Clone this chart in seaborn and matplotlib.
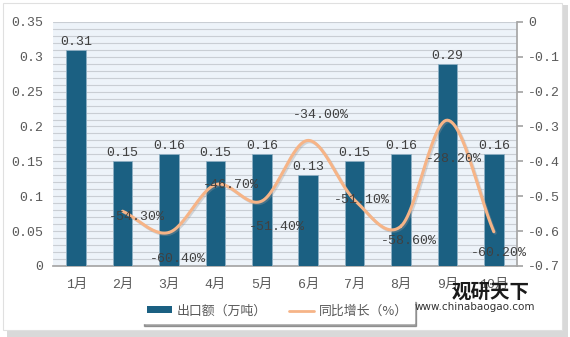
import numpy as np
import pandas as pd
import seaborn as sns
import matplotlib
matplotlib.use("Agg")
import matplotlib.pyplot as plt
from matplotlib.patches import Rectangle, Patch
from matplotlib.lines import Line2D
import matplotlib.patheffects as pe

months = ["1月", "2月", "3月", "4月", "5月", "6月", "7月", "8月", "9月", "10月"]
export_vol = [0.31, 0.15, 0.16, 0.15, 0.16, 0.13, 0.15, 0.16, 0.29, 0.16]
growth_months = ["2月", "3月", "4月", "5月", "6月", "7月", "8月", "9月", "10月"]
growth = [-0.543, -0.604, -0.467, -0.514, -0.340, -0.511, -0.586, -0.282, -0.602]
growth_labels = ["-54.30%", "-60.40%", "-46.70%", "-51.40%", "-34.00%",
                 "-51.10%", "-58.60%", "-28.20%", "-60.20%"]
left_ticks = [0, 0.05, 0.1, 0.15, 0.2, 0.25, 0.3, 0.35]
left_ticklabels = ["0", "0.05", "0.1", "0.15", "0.2", "0.25", "0.3", "0.35"]
right_ticks = [0, -0.1, -0.2, -0.3, -0.4, -0.5, -0.6, -0.7]
right_ticklabels = ["0", "-0.1", "-0.2", "-0.3", "-0.4", "-0.5", "-0.6", "-0.7"]

sns.set_theme(style="white")
plt.rcParams["font.family"] = ["Liberation Mono", "Noto Sans CJK SC"]
plt.rcParams["axes.unicode_minus"] = False

BAR = "#1b6082"
LINE = "#f6b487"
TXT = "#404040"
TICK = "#595959"

fig = plt.figure(figsize=(5.7, 3.37), dpi=100)
# card frame with shadow
fig.patches.append(Rectangle((0.012, 0.0), 0.985, 0.985, transform=fig.transFigure,
                             facecolor="#d9d9d9", edgecolor="none", zorder=-3))
fig.patches.append(Rectangle((0.006, 0.02), 0.98, 0.97, transform=fig.transFigure,
                             facecolor="white", edgecolor="#e0e0e0", lw=0.8, zorder=-2))

ax = fig.add_axes([0.093, 0.211, 0.814, 0.724])
ax.set_facecolor("#edf3f9")

df = pd.DataFrame({"month": months, "value": export_vol})
sns.barplot(data=df, x="month", y="value", color=BAR, width=0.42, ax=ax,
            saturation=1, edgecolor="#8fb0c4", linewidth=0.6, zorder=3)
ax.set_ylim(0, 0.35)
ax.set_xlim(-0.5, len(months) - 0.5)
ax.set_yticks(left_ticks)
ax.set_yticklabels(left_ticklabels)
ax.set_yticks(np.arange(0, 0.351, 0.01), minor=True)
ax.grid(axis="y", which="both", color="#c9ced4", lw=0.8, zorder=0)
ax.set_axisbelow(True)
ax.set_xlabel("")
ax.set_ylabel("")
for s in ["top", "left", "right"]:
    ax.spines[s].set_visible(False)
ax.spines["bottom"].set_color("#a6a6a6")
ax.tick_params(axis="y", which="both", length=0, labelsize=9.5, colors=TICK, pad=7)
ax.tick_params(axis="x", length=0, labelsize=9.5, colors=TICK, pad=9)

for i, v in enumerate(export_vol):
    ax.annotate(f"{v:.2f}", (i, v), xytext=(0, 1.5), textcoords="offset points",
                ha="center", va="bottom", fontsize=9.5, color=TXT, zorder=6)

ax2 = ax.twinx()
ax2.set_ylim(-0.7, 0)
ax2.set_yticks(right_ticks)
ax2.set_yticklabels(right_ticklabels)
ax2.grid(False)
for s in ["top", "left", "bottom"]:
    ax2.spines[s].set_visible(False)
ax2.spines["right"].set_color("#a6a6a6")
ax2.tick_params(axis="y", length=4, color="#a6a6a6", labelsize=9.5, colors=TICK, pad=4)

# smooth line (Catmull-Rom through the data points)
xs = np.array([months.index(m) for m in growth_months], dtype=float)
ys = np.array(growth)
P = np.column_stack([xs, ys])
Pe = np.vstack([2 * P[0] - P[1], P, 2 * P[-1] - P[-2]])
curve = []
for k in range(1, len(Pe) - 2):
    p0, p1, p2, p3 = Pe[k - 1], Pe[k], Pe[k + 1], Pe[k + 2]
    t = np.linspace(0, 1, 30)[:, None]
    seg = 0.5 * ((2 * p1) + (-p0 + p2) * t + (2 * p0 - 5 * p1 + 4 * p2 - p3) * t ** 2
                 + (-p0 + 3 * p1 - 3 * p2 + p3) * t ** 3)
    curve.append(seg)
curve = np.vstack(curve)
sdf = pd.DataFrame({"x": curve[:, 0], "y": curve[:, 1]})
sns.lineplot(data=sdf, x="x", y="y", sort=False, estimator=None, color=LINE, lw=2.2,
             ax=ax2, zorder=5,
             path_effects=[pe.SimpleLineShadow(offset=(1, -1), shadow_color="#999999", alpha=0.35),
                           pe.Normal()])
ax2.set_xlabel("")
ax2.set_ylabel("")

label_offsets = [(10, -4), (6.5, -19), (11, 0), (11, -19), (9, 18),
                 (5, 0), (6, -11), (5, -28), (4, -15)]
for (x, y, t, off) in zip(xs, ys, growth_labels, label_offsets):
    ax2.annotate(t, (x, y), xytext=off, textcoords="offset points", ha="center",
                 va="center", fontsize=9.5, color=TXT, zorder=7)

handles = [Patch(facecolor=BAR, edgecolor="none"), Line2D([0], [0], color=LINE, lw=2)]
leg = fig.legend(handles, ["出口额（万吨）", "同比增长（%）"], loc="center",
                 bbox_to_anchor=(0.487, 0.077), ncol=2, frameon=True,
                 handlelength=1.9, handleheight=0.45, handletextpad=0.4,
                 columnspacing=1.7, borderpad=0.45, fancybox=False, shadow=True,
                 prop={"family": ["Noto Sans CJK SC"], "size": 9.3})
leg.get_frame().set_edgecolor("white")
leg.get_frame().set_facecolor("white")
for t in leg.get_texts():
    t.set_color(TICK)

# watermark
fig.text(0.793, 0.134, "观研天下", fontsize=14, fontweight="bold", color="#1a1a1a",
         family=["Noto Sans CJK SC"], ha="left", va="center", zorder=10)
fig.text(0.728, 0.090, "www.chinabaogao.com", fontsize=7.5, color="#333333",
         family=["DejaVu Sans"], ha="left", va="center", zorder=10)

fig.savefig("out.png", dpi=100)
